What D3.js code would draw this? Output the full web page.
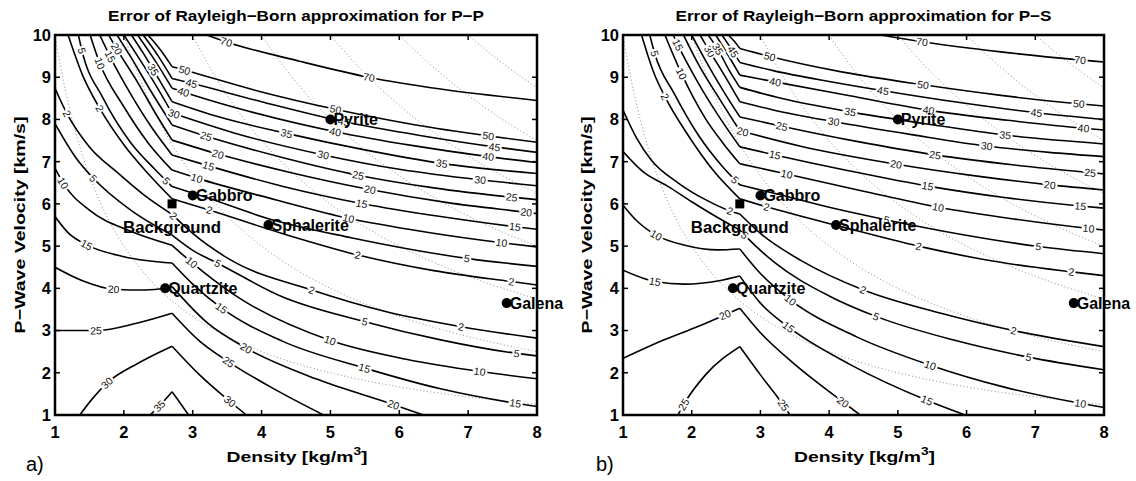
<!DOCTYPE html>
<html>
<head>
<meta charset="utf-8">
<script src="https://cdn.jsdelivr.net/npm/d3@7"></script>
<style>
body { margin: 0; background: #fff; }
text { font-family: "Liberation Sans", Arial, sans-serif; }
</style>
</head>
<body>
<script>
// ---- data ----
var densityTicks = [1, 2, 3, 4, 5, 6, 7, 8]
var velocityTicks = [1, 2, 3, 4, 5, 6, 7, 8, 9, 10]
var impedanceLevels = [10, 20, 30, 40, 50, 60, 70]   // dotted iso-impedance guides

var rockNames = ["Gabbro", "Sphalerite", "Pyrite", "Quartzite", "Galena"]
var rockDensity = [3.0, 4.1, 5.0, 2.6, 7.56]
var rockVelocity = [6.2, 5.5, 8.0, 4.0, 3.65]
var background = [2.7, 6.0]

// contour lines: [density, velocity] points, the kink sits at the background density
var ppContours = [
  {level: 2,  pts: [[1.19,10],[1.4,9.05],[1.65,8.26],[2,7.4],[2.35,6.72],[2.7,6.12],[3.25,5.85],[4.3,5.3],[5.4,4.79],[6.5,4.42],[7.63,4.16],[8,4.08]]},
  {level: 5,  pts: [[1.34,10],[1.39,9.64],[1.7,8.5],[2.1,7.45],[2.45,6.82],[2.7,6.41],[3.2,6.15],[4.1,5.65],[5.3,5.2],[6.98,4.71],[8,4.52]]},
  {level: 10, pts: [[1.51,10],[1.65,9.33],[2,8.3],[2.35,7.45],[2.7,6.8],[3.06,6.61],[4.2,6.1],[5.26,5.66],[6.4,5.33],[7.49,5.08],[8,4.98]]},
  {level: 15, pts: [[1.65,10],[1.8,9.49],[2.1,8.6],[2.4,7.82],[2.7,7.16],[3.23,6.9],[4.3,6.42],[5.45,6.01],[6.6,5.7],[7.68,5.46],[8,5.4]]},
  {level: 20, pts: [[1.78,10],[1.9,9.66],[2.2,8.88],[2.45,8.17],[2.7,7.51],[3.37,7.18],[4.4,6.75],[5.57,6.34],[6.7,6.03],[7.85,5.8],[8,5.77]]},
  {level: 25, pts: [[1.9,10],[2.1,9.48],[2.4,8.65],[2.7,7.87],[3.2,7.6],[4.3,7.1],[5.4,6.68],[6.5,6.38],[7.63,6.16],[8,6.1]]},
  {level: 30, pts: [[2.0,10],[2.2,9.5],[2.45,8.85],[2.7,8.15],[3.6,7.68],[4.9,7.16],[6.0,6.82],[7.17,6.57],[8,6.43]]},
  {level: 35, pts: [[2.11,10],[2.27,9.6],[2.43,9.17],[2.7,8.42],[3.4,8.05],[4.36,7.67],[5.5,7.28],[6.61,6.96],[8,6.72]]},
  {level: 40, pts: [[2.2,10],[2.45,9.4],[2.7,8.74],[3.0,8.58],[3.8,8.2],[5.07,7.71],[6.2,7.38],[7.29,7.12],[8,6.98]]},
  {level: 45, pts: [[2.28,10],[2.5,9.5],[2.7,8.97],[3.0,8.85],[4.0,8.42],[5.19,7.95],[6.3,7.62],[7.38,7.35],[8,7.22]]},
  {level: 50, pts: [[2.35,10],[2.53,9.65],[2.7,9.25],[2.9,9.16],[4.0,8.65],[5.07,8.24],[6.2,7.88],[7.29,7.61],[8,7.46]]},
  {level: 70, pts: [[3.2,10],[3.5,9.83],[4.55,9.38],[5.55,9.0],[6.6,8.72],[8,8.45]]},
  {level: 2,  pts: [[1,8.74],[1.17,8.15],[1.5,7.35],[1.9,6.75],[2.3,6.2],[2.7,5.75],[3.0,5.3],[3.5,4.72],[4.73,3.96],[5.8,3.45],[6.9,3.09],[8,2.82]]},
  {level: 5,  pts: [[1,7.9],[1.3,7.1],[1.56,6.6],[2.1,5.85],[2.7,5.26],[3.0,4.9],[3.37,4.59],[4.3,3.8],[5.5,3.21],[6.6,2.78],[7.7,2.46],[8,2.4]]},
  {level: 10, pts: [[1,6.85],[1.12,6.49],[1.5,5.85],[2.1,5.35],[2.7,5.02],[2.98,4.62],[3.6,3.85],[4.99,2.77],[6.1,2.32],[7.17,2.03],[8,1.86]]},
  {level: 15, pts: [[1,5.7],[1.2,5.3],[1.46,5.03],[2.0,4.75],[2.7,4.6],[3.0,4.1],[3.42,3.53],[4.3,2.75],[5.5,2.11],[6.6,1.62],[7.68,1.28],[8,1.2]]},
  {level: 20, pts: [[1,4.5],[1.4,4.18],[1.85,3.98],[2.3,3.96],[2.6,4.0],[2.7,4.04],[3.2,3.2],[3.78,2.58],[4.8,1.85],[5.91,1.25],[6.35,1.0]]},
  {level: 25, pts: [[1,3.0],[1.6,3.0],[2.2,3.18],[2.7,3.41],[3.1,2.75],[3.52,2.26],[4.2,1.6],[4.9,1.0]]},
  {level: 30, pts: [[1.36,1],[1.55,1.4],[1.75,1.75],[2.2,2.22],[2.7,2.63],[3.1,1.95],[3.54,1.32],[3.78,1.0]]},
  {level: 35, pts: [[2.38,1],[2.52,1.22],[2.7,1.55],[2.82,1.28],[2.94,1.0]]}
]

var psContours = [
  {level: 2,  pts: [[1.27,10],[1.45,9.1],[1.61,8.54],[1.95,7.62],[2.3,6.82],[2.7,6.12],[3.09,5.93],[4.2,5.45],[5.3,5.0],[6.4,4.64],[7.53,4.39],[8,4.3]]},
  {level: 5,  pts: [[1.39,10],[1.46,9.57],[1.75,8.6],[2.1,7.62],[2.45,6.88],[2.7,6.45],[3.2,6.25],[4.0,5.92],[4.84,5.62],[5.95,5.27],[7.05,4.99],[8,4.82]]},
  {level: 10, pts: [[1.61,10],[1.85,9.09],[2.2,8.02],[2.45,7.45],[2.7,6.95],[3.38,6.71],[4.5,6.3],[5.59,5.92],[6.7,5.64],[7.77,5.42],[8,5.38]]},
  {level: 15, pts: [[1.73,10],[1.8,9.76],[2.1,8.85],[2.4,8.06],[2.7,7.35],[3.21,7.16],[4.3,6.78],[5.44,6.42],[6.55,6.15],[7.65,5.95],[8,5.9]]},
  {level: 20, pts: [[1.88,10],[2.1,9.3],[2.4,8.5],[2.7,7.73],[3.6,7.36],[4.98,6.94],[6.1,6.67],[7.21,6.45],[8,6.33]]},
  {level: 25, pts: [[2.0,10],[2.2,9.4],[2.45,8.7],[2.7,8.06],[3.31,7.84],[4.4,7.48],[5.54,7.16],[6.7,6.92],[7.8,6.74],[8,6.71]]},
  {level: 30, pts: [[2.12,10],[2.26,9.62],[2.5,8.98],[2.7,8.42],[3.2,8.22],[4.06,7.95],[5.2,7.64],[6.29,7.37],[7.2,7.22],[8,7.12]]},
  {level: 35, pts: [[2.24,10],[2.38,9.66],[2.55,9.15],[2.7,8.76],[3.3,8.5],[4.3,8.18],[5.4,7.9],[6.56,7.63],[8,7.42]]},
  {level: 40, pts: [[2.35,10],[2.52,9.55],[2.7,9.05],[3.21,8.89],[4.3,8.56],[5.44,8.22],[6.6,7.98],[7.7,7.79],[8,7.75]]},
  {level: 45, pts: [[2.44,10],[2.58,9.66],[2.7,9.35],[3.2,9.15],[4.0,8.9],[4.79,8.68],[5.9,8.4],[7.02,8.16],[8,8.0]]},
  {level: 50, pts: [[2.53,10],[2.62,9.85],[2.7,9.68],[3.14,9.49],[4.2,9.12],[5.37,8.82],[6.5,8.57],[7.63,8.37],[8,8.32]]},
  {level: 70, pts: [[4.75,10],[5.35,9.84],[6.5,9.6],[7.65,9.41],[8,9.36]]},
  {level: 2,  pts: [[1,8.22],[1.2,7.55],[1.41,7.04],[1.8,6.5],[2.2,6.1],[2.53,5.85],[2.7,5.76],[3.0,5.3],[3.6,4.65],[4.5,3.96],[5.6,3.42],[6.68,3.0],[8,2.62]]},
  {level: 5,  pts: [[1,7.24],[1.3,6.75],[1.66,6.41],[2.0,6.05],[2.29,5.76],[2.7,5.38],[2.77,5.26],[3.2,4.62],[4.0,3.82],[4.69,3.33],[5.8,2.78],[6.9,2.37],[8,2.07]]},
  {level: 10, pts: [[1,5.97],[1.2,5.6],[1.48,5.26],[1.9,5.02],[2.38,4.91],[2.7,4.93],[3.0,4.35],[3.44,3.72],[4.4,2.85],[5.47,2.18],[6.55,1.66],[7.65,1.28],[8,1.18]]},
  {level: 15, pts: [[1,4.43],[1.47,4.16],[1.9,4.1],[2.4,4.18],[2.7,4.29],[3.0,3.65],[3.41,3.08],[4.3,2.2],[5.42,1.35],[5.98,1.0]]},
  {level: 20, pts: [[1,2.34],[1.6,2.78],[2.1,3.1],[2.48,3.37],[2.7,3.53],[3.0,2.95],[3.5,2.2],[4.2,1.31],[4.45,1.0]]},
  {level: 25, pts: [[1.8,1],[1.88,1.24],[2.2,1.95],[2.7,2.62],[3.0,1.95],[3.33,1.24],[3.43,1.0]]}
]

// inline contour labels: [level, density, velocity]
var ppLabels = [
  [5,1.39,9.64],[10,1.65,9.33],[15,1.8,9.49],[20,1.9,9.68],[35,2.43,9.17],[2,1.65,8.26],
  [50,2.88,9.17],[45,2.98,8.87],[40,2.86,8.62],[30,2.72,8.1],[35,4.36,7.67],[25,3.2,7.59],
  [20,3.37,7.18],[15,3.23,6.9],[10,3.06,6.61],[5,2.6,6.53],[2,3.25,5.86],[70,3.49,9.84],
  [70,5.55,8.97],[50,5.07,8.22],[45,5.19,7.95],[40,5.07,7.71],[30,4.9,7.16],[35,6.61,6.96],
  [25,5.4,6.68],[20,5.57,6.34],[15,5.45,6.01],[10,5.26,5.66],[50,7.29,7.61],[45,7.38,7.35],
  [40,7.29,7.12],[30,7.17,6.57],[25,7.63,6.16],[20,7.85,5.81],[15,7.68,5.46],[10,7.49,5.08],
  [5,6.98,4.71],[2,5.4,4.79],[2,7.63,4.16],
  [2,1.17,8.15],[5,1.56,6.6],[10,1.12,6.49],[2,2.72,5.7],[15,1.46,5.03],[10,2.98,4.62],
  [5,3.37,4.59],[20,1.85,3.97],[15,3.42,3.53],[25,1.6,3.0],[20,3.78,2.58],[25,3.52,2.26],
  [30,1.75,1.75],[35,2.52,1.2],[30,3.54,1.32],[2,4.73,3.96],[5,5.5,3.21],[2,6.9,3.09],
  [10,4.99,2.77],[5,7.7,2.46],[15,5.5,2.11],[10,7.17,2.03],[20,5.91,1.25],[15,7.68,1.28]
]

var psLabels = [
  [5,1.46,9.57],[15,1.8,9.76],[10,1.85,9.09],[2,1.61,8.54],[30,2.26,9.62],[35,2.38,9.66],
  [45,2.6,9.6],[50,3.14,9.49],[40,3.21,8.89],[35,4.3,8.18],[30,4.06,7.95],[25,3.31,7.84],
  [20,2.73,7.66],[15,3.21,7.16],[10,3.38,6.71],[5,2.63,6.57],[2,3.09,5.93],[70,5.35,9.82],
  [70,7.65,9.41],[50,5.37,8.82],[45,4.79,8.68],[50,7.63,8.37],[45,7.02,8.16],[40,5.44,8.22],
  [40,7.7,7.79],[35,6.56,7.63],[30,6.29,7.37],[25,5.54,7.16],[25,7.8,6.74],[20,4.98,6.94],
  [20,7.21,6.45],[15,5.44,6.42],[15,7.65,5.95],[10,5.59,5.92],[10,7.77,5.42],[5,4.84,5.62],
  [5,7.05,4.99],[2,5.3,5.0],[2,7.53,4.39],
  [2,2.55,5.81],[5,2.77,5.26],[10,1.48,5.26],[15,1.47,4.16],[20,2.48,3.37],[10,3.44,3.72],
  [15,3.41,3.08],[25,1.88,1.24],[25,3.33,1.24],[20,4.2,1.31],[2,4.5,3.96],[5,4.69,3.33],
  [2,6.68,3.0],[5,6.9,2.37],[10,5.47,2.18],[10,7.65,1.28],[15,5.42,1.35]
]

// ---- drawing ----
var width = 1136, height = 481
var plotTop = 35, plotBottom = 415

var svg = d3.select("body").append("svg")
  .attr("width", width)
  .attr("height", height)

var panels = [
  {title: "Error of Rayleigh\u2212Born approximation for P\u2212P", contours: ppContours, labels: ppLabels,
   left: 55, right: 537, letter: "a)", letterX: 26, ylabelX: 25},
  {title: "Error of Rayleigh\u2212Born approximation for P\u2212S", contours: psContours, labels: psLabels,
   left: 623, right: 1104, letter: "b)", letterX: 596, ylabelX: 592}
]

panels.forEach(function (p, pi) {
  var x = d3.scaleLinear().domain([1, 8]).range([p.left, p.right])
  var y = d3.scaleLinear().domain([1, 10]).range([plotBottom, plotTop])
  var cx = (p.left + p.right) / 2

  svg.append("clipPath").attr("id", "clip" + pi)
    .append("rect")
    .attr("x", p.left).attr("y", plotTop)
    .attr("width", p.right - p.left).attr("height", plotBottom - plotTop)

  var g = svg.append("g").attr("clip-path", "url(#clip" + pi + ")")

  // dotted iso-impedance curves (density * velocity = const)
  var rhoSamples = d3.range(1, 8.001, 0.02)
  g.selectAll(".imp")
    .data(impedanceLevels)
    .join("path")
    .attr("fill", "none")
    .attr("stroke", "#8a8a8a")
    .attr("stroke-width", 1)
    .attr("stroke-dasharray", "1,2.5")
    .attr("d", function (z) {
      return d3.line()
        .x(function (r) { return x(r) })
        .y(function (r) { return y(z / r) })(rhoSamples)
    })

  // contour pieces split at the kink
  var pieces = []
  p.contours.forEach(function (c) {
    var cur = []
    c.pts.forEach(function (pt) {
      cur.push(pt)
      if (pt[0] === background[0] && cur.length > 1) {
        pieces.push({level: c.level, pts: cur})
        cur = [pt]
      }
    })
    if (cur.length > 1) pieces.push({level: c.level, pts: cur})
  })

  var line = d3.line()
    .x(function (d) { return x(d[0]) })
    .y(function (d) { return y(d[1]) })
    .curve(d3.curveMonotoneX)

  var paths = g.selectAll(".contour")
    .data(pieces)
    .join("path")
    .attr("class", "contour")
    .attr("fill", "none")
    .attr("stroke", "#000")
    .attr("stroke-width", 1.6)
    .attr("d", function (d) { return line(d.pts) })

  // sample every path once so the labels can sit on them
  var samples = []
  paths.each(function (d) {
    var len = this.getTotalLength()
    for (var l = 0; l <= len; l += 1) {
      var pt = this.getPointAtLength(l)
      samples.push({level: d.level, node: this, l: l, x: pt.x, y: pt.y})
    }
  })

  p.labels.forEach(function (lab) {
    var tx = x(lab[1]), ty = y(lab[2])
    var best = null, bd = Infinity
    samples.forEach(function (s) {
      if (s.level !== lab[0]) return
      var dd = (s.x - tx) * (s.x - tx) + (s.y - ty) * (s.y - ty)
      if (dd < bd) { bd = dd; best = s }
    })
    if (!best) return
    var len = best.node.getTotalLength()
    var a = best.node.getPointAtLength(Math.max(0, best.l - 4))
    var b = best.node.getPointAtLength(Math.min(len, best.l + 4))
    var ang = Math.atan2(b.y - a.y, b.x - a.x) * 180 / Math.PI
    if (ang > 90) ang -= 180
    if (ang < -90) ang += 180
    g.append("text")
      .attr("transform", "translate(" + best.x + "," + best.y + ") rotate(" + ang + ")")
      .attr("text-anchor", "middle")
      .attr("dy", "0.36em")
      .attr("font-size", 10.5)
      .attr("fill", "#111")
      .attr("stroke", "#fff")
      .attr("stroke-width", 4)
      .attr("paint-order", "stroke")
      .text(lab[0])
  })

  // rock markers
  var rocks = rockNames.map(function (n, i) { return {name: n, rho: rockDensity[i], v: rockVelocity[i]} })
  svg.selectAll(".rock" + pi)
    .data(rocks)
    .join("circle")
    .attr("cx", function (d) { return x(d.rho) })
    .attr("cy", function (d) { return y(d.v) })
    .attr("r", 5)
    .attr("fill", "#000")
  svg.selectAll(".rocklab" + pi)
    .data(rocks)
    .join("text")
    .attr("x", function (d) { return x(d.rho) + 3 })
    .attr("y", function (d) { return y(d.v) })
    .attr("dy", "0.36em")
    .attr("font-size", 16)
    .attr("font-weight", "bold")
    .text(function (d) { return d.name })

  svg.append("rect")
    .attr("x", x(background[0]) - 4.5).attr("y", y(background[1]) - 4.5)
    .attr("width", 9).attr("height", 9)
    .attr("fill", "#000")
  svg.append("text")
    .attr("x", x(background[0]))
    .attr("y", y(5.45))
    .attr("dy", "0.36em")
    .attr("text-anchor", "middle")
    .attr("font-size", 16)
    .attr("font-weight", "bold")
    .attr("textLength", 98)
    .attr("lengthAdjust", "spacingAndGlyphs")
    .text("Background")

  // box and ticks
  svg.append("rect")
    .attr("x", p.left).attr("y", plotTop)
    .attr("width", p.right - p.left).attr("height", plotBottom - plotTop)
    .attr("fill", "none").attr("stroke", "#000").attr("stroke-width", 2.5)

  var ticks = svg.append("g").attr("stroke", "#000").attr("stroke-width", 1.5)
  densityTicks.forEach(function (t) {
    ticks.append("line").attr("x1", x(t)).attr("x2", x(t)).attr("y1", plotBottom).attr("y2", plotBottom - 5)
    ticks.append("line").attr("x1", x(t)).attr("x2", x(t)).attr("y1", plotTop).attr("y2", plotTop + 5)
  })
  velocityTicks.forEach(function (t) {
    ticks.append("line").attr("x1", p.left).attr("x2", p.left + 5).attr("y1", y(t)).attr("y2", y(t))
    ticks.append("line").attr("x1", p.right).attr("x2", p.right - 5).attr("y1", y(t)).attr("y2", y(t))
  })

  svg.selectAll(".xt" + pi)
    .data(densityTicks)
    .join("text")
    .attr("x", function (d) { return x(d) })
    .attr("y", plotBottom + 22.5)
    .attr("text-anchor", "middle")
    .attr("font-size", 16.5)
    .attr("font-weight", "bold")
    .text(function (d) { return d })

  svg.selectAll(".yt" + pi)
    .data(velocityTicks)
    .join("text")
    .attr("x", p.left - 4)
    .attr("y", function (d) { return y(d) })
    .attr("dy", "0.36em")
    .attr("text-anchor", "end")
    .attr("font-size", 16.5)
    .attr("font-weight", "bold")
    .text(function (d) { return d })

  // titles and axis labels
  svg.append("text")
    .attr("x", cx).attr("y", 20.5)
    .attr("text-anchor", "middle")
    .attr("font-size", 15)
    .attr("font-weight", "bold")
    .attr("textLength", 376)
    .attr("lengthAdjust", "spacingAndGlyphs")
    .text(p.title)

  var xl = svg.append("text")
    .attr("x", cx + 1).attr("y", 461.5)
    .attr("text-anchor", "middle")
    .attr("font-size", 15.5)
    .attr("font-weight", "bold")
    .attr("textLength", 141)
    .attr("lengthAdjust", "spacingAndGlyphs")
  xl.append("tspan").text("Density [kg/m")
  xl.append("tspan").attr("dy", -7).attr("font-size", 11).text("3")
  xl.append("tspan").attr("dy", 7).text("]")

  svg.append("text")
    .attr("transform", "translate(" + p.ylabelX + "," + (plotTop + plotBottom) / 2 + ") rotate(-90)")
    .attr("text-anchor", "middle")
    .attr("font-size", 15.5)
    .attr("font-weight", "bold")
    .attr("textLength", 217)
    .attr("lengthAdjust", "spacingAndGlyphs")
    .text("P\u2212Wave Velocity [km/s]")

  svg.append("text")
    .attr("x", p.letterX).attr("y", 471)
    .attr("font-family", "Liberation Serif, Times New Roman, serif")
    .attr("font-size", 20)
    .text(p.letter)
})
</script>
</body>
</html>
